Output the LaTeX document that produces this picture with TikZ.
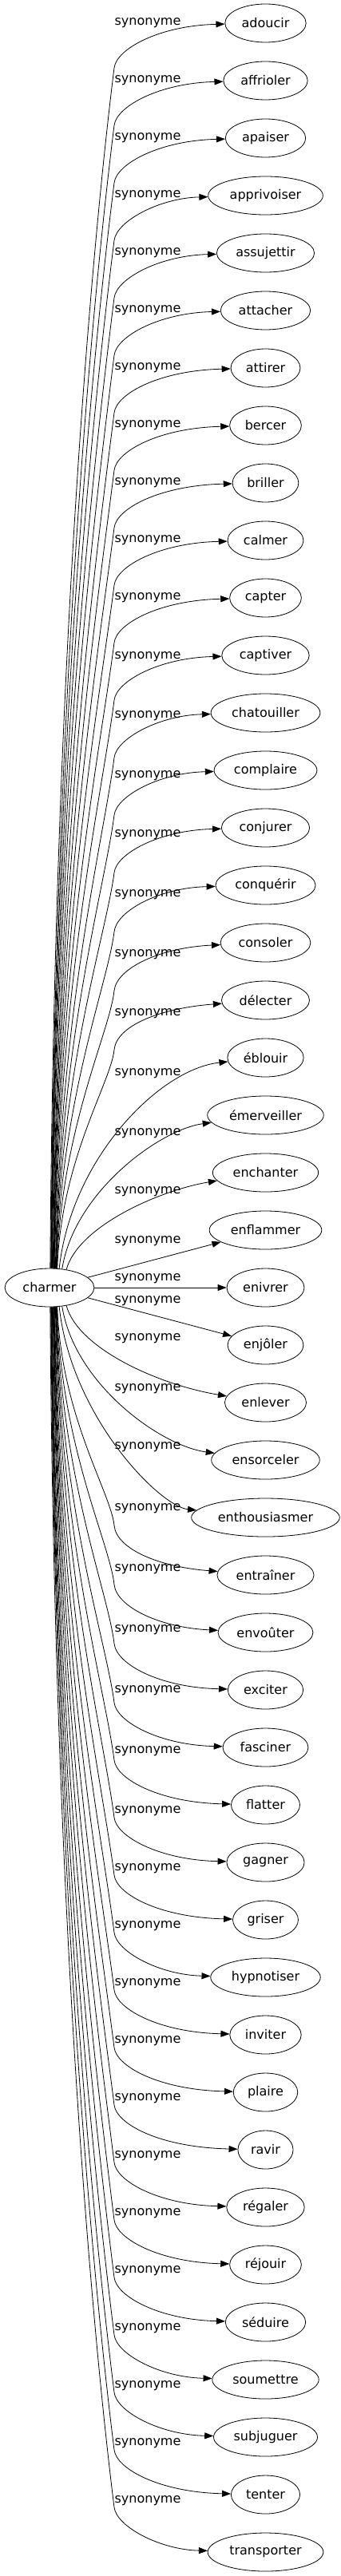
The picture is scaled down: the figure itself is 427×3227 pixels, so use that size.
\documentclass[tikz,border=0pt]{standalone}
\usepackage{fontspec}
\setmainfont{DejaVu Sans}
\usetikzlibrary{arrows.meta,calc,shapes.geometric}

\tikzset{
  word/.style={draw,ellipse,line width=0.8pt,inner xsep=6pt,inner ysep=2pt,minimum height=48pt,font=\fontsize{16}{19}\selectfont},
  rel/.style={inner sep=0pt,font=\fontsize{16}{19}\selectfont},
  edge/.style={line width=0.8pt,-{Triangle[length=11pt,width=8pt]}}
}

\begin{document}
\begin{tikzpicture}[x=1pt,y=1pt]
\useasboundingbox (0,0) rectangle (427,-3227);

\node[word] (charmer) at (62,-1613) {charmer};

\node[word] (adoucir) at (332.5,-29) {adoucir};
\node[word] (affrioler) at (332.5,-101) {affrioler};
\node[word] (apaiser) at (332.5,-173) {apaiser};
\node[word] (apprivoiser) at (332.5,-245) {apprivoiser};
\node[word] (assujettir) at (332.5,-317) {assujettir};
\node[word] (attacher) at (332.5,-389) {attacher};
\node[word] (attirer) at (332.5,-461) {attirer};
\node[word] (bercer) at (332.5,-533) {bercer};
\node[word] (briller) at (332.5,-605) {briller};
\node[word] (calmer) at (332.5,-677) {calmer};
\node[word] (capter) at (332.5,-749) {capter};
\node[word] (captiver) at (332.5,-821) {captiver};
\node[word] (chatouiller) at (332.5,-893) {chatouiller};
\node[word] (complaire) at (332.5,-965) {complaire};
\node[word] (conjurer) at (332.5,-1037) {conjurer};
\node[word] (conquerir) at (332.5,-1109) {conquérir};
\node[word] (consoler) at (332.5,-1181) {consoler};
\node[word] (delecter) at (332.5,-1253) {délecter};
\node[word] (eblouir) at (332.5,-1325) {éblouir};
\node[word] (emerveiller) at (332.5,-1397) {émerveiller};
\node[word] (enchanter) at (332.5,-1469) {enchanter};
\node[word] (enflammer) at (332.5,-1541) {enflammer};
\node[word] (enivrer) at (332.5,-1613) {enivrer};
\node[word] (enjoler) at (332.5,-1685) {enjôler};
\node[word] (enlever) at (332.5,-1757) {enlever};
\node[word] (ensorceler) at (332.5,-1829) {ensorceler};
\node[word] (enthousiasmer) at (332.5,-1901) {enthousiasmer};
\node[word] (entrainer) at (332.5,-1973) {entraîner};
\node[word] (envouter) at (332.5,-2045) {envoûter};
\node[word] (exciter) at (332.5,-2117) {exciter};
\node[word] (fasciner) at (332.5,-2189) {fasciner};
\node[word] (flatter) at (332.5,-2261) {flatter};
\node[word] (gagner) at (332.5,-2333) {gagner};
\node[word] (griser) at (332.5,-2405) {griser};
\node[word] (hypnotiser) at (332.5,-2477) {hypnotiser};
\node[word] (inviter) at (332.5,-2549) {inviter};
\node[word] (plaire) at (332.5,-2621) {plaire};
\node[word] (ravir) at (332.5,-2693) {ravir};
\node[word] (regaler) at (332.5,-2765) {régaler};
\node[word] (rejouir) at (332.5,-2837) {réjouir};
\node[word] (seduire) at (332.5,-2909) {séduire};
\node[word] (soumettre) at (332.5,-2981) {soumettre};
\node[word] (subjuguer) at (332.5,-3053) {subjuguer};
\node[word] (tenter) at (332.5,-3125) {tenter};
\node[word] (transporter) at (332.5,-3197) {transporter};

% edges: near ones straight or one curve, far ones bend at (143,By)
\foreach \n/\i/\dy in {adoucir/0/0, affrioler/1/0, apaiser/2/0, apprivoiser/3/0,
    assujettir/4/0, attacher/5/0, attirer/6/0, bercer/7/0, briller/8/0, calmer/9/0,
    capter/10/0, captiver/11/2, chatouiller/12/4, complaire/13/7, conjurer/14/9,
    conquerir/15/12, consoler/16/15, delecter/17/17, eblouir/18/20, emerveiller/19/23,
    enchanter/20/24, enflammer/21/14, enivrer/22/-11, enjoler/23/-55, enlever/24/-80,
    ensorceler/25/-89, enthousiasmer/26/-88, entrainer/27/-83, envouter/28/-79,
    exciter/29/-75, fasciner/30/-71, flatter/31/-67, gagner/32/-64, griser/33/-64,
    hypnotiser/34/-64, inviter/35/-64, plaire/36/-64, ravir/37/-64, regaler/38/-64,
    rejouir/39/-64, seduire/40/-64, soumettre/41/-64, subjuguer/42/-64, tenter/43/-64,
    transporter/44/-64}{
  \pgfmathtruncatemacro\k{\i-22}
  \pgfmathtruncatemacro\ak{abs(\k)}
  \pgfmathtruncatemacro\sg{\k<0 ? -1 : 1}
  \pgfmathsetmacro\Yt{-(29+72*\i)}
  \node[rel] (l\i) at (185,{\Yt-(\dy)}) {synonyme};
  \ifnum\ak<2
    \draw[edge] (charmer) -- (\n);
  \else\ifnum\ak<5
    \pgfmathtruncatemacro\a{(-1)*(\sg)*(\ak==2 ? 47 : (\ak==3 ? 56 : 63))}
    \pgfmathsetmacro\cf{max(3,30-4*\ak)}
    \pgfmathsetmacro\dY{72*\ak-23-\cf}
    \draw[edge] (charmer.\a) .. controls ($(charmer.\a)+(15,{(-1)*(\sg)*0.55*\dY})$)
      and (200,{\Yt+(\sg)*\cf}) .. (\n);
  \else
    \pgfmathtruncatemacro\a{(-1)*(\sg)*(68+(\ak-5)*20/17)}
    \pgfmathsetmacro\bo{max(56,72-2*\ak)}
    \pgfmathsetmacro\cf{max(3,30-4*\ak)}
    \pgfmathsetmacro\L{72*\ak-\bo-22}
    \pgfmathsetmacro\m{0.15*\L/(\bo-32)}
    \pgfmathsetmacro\By{\Yt+(\sg)*\bo}
    \draw[edge] (charmer.\a) .. controls ($(charmer.\a)+(5,{(-1)*(\sg)*0.5*\L})$)
      and ({143-3*\m},{\By+(\sg)*0.15*\L}) .. (143,\By)
      .. controls (146,{\Yt+(\sg)*32}) and (200,{\Yt+(\sg)*\cf}) .. (\n);
  \fi\fi
}
\end{tikzpicture}
\end{document}
